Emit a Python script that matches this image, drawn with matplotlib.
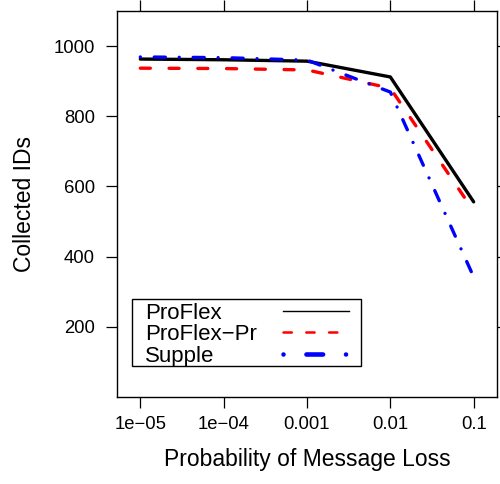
import numpy as np
import matplotlib.pyplot as plt
from matplotlib.patches import Rectangle

plt.rcParams['font.family'] = ['Liberation Sans', 'DejaVu Sans']
plt.rcParams['lines.scale_dashes'] = False

# data
loss = [1e-05, 1e-04, 1e-03, 1e-02, 1e-01]
tick_labels = ['1e\u221205', '1e\u221204', '0.001', '0.01', '0.1']
series_names = ['ProFlex', 'ProFlex\u2212Pr', 'Supple']
proflex = [963, 961, 957, 912, 556]
proflex_pr = [937, 936, 932, 880, 530]
supple = [969, 967, 960, 869, 342]

fig = plt.figure(figsize=(5.0, 4.84), dpi=100)
ax = fig.add_axes([0.234, 0.1798, 0.76, 0.7975])

lx = np.log10(loss)
ax.plot(lx, proflex, color='black', lw=2.4, solid_capstyle='round', solid_joinstyle='round')
ax.plot(lx, proflex_pr, color='red', lw=2.4, dashes=(7.2, 13.5), dash_capstyle='round')
ax.plot(lx, supple, color='blue', lw=2.4, dashes=(0.01, 10, 8, 10), dash_capstyle='round')

ax.set_xlim(-5.28, -0.72)
ax.set_ylim(0, 1100)
ax.set_xticks(lx)
ax.set_xticklabels(tick_labels)
ax.set_yticks([200, 400, 600, 800, 1000])
ax.tick_params(axis='both', direction='out', length=7.8, width=0.9, labelsize=13.3,
               top=True, right=True, labeltop=False, labelright=False)
ax.tick_params(axis='x', pad=6)
ax.tick_params(axis='y', pad=8)
for s in ax.spines.values():
    s.set_linewidth(1.0)

ax.set_xlabel('Probability of Message Loss', fontsize=16.5, labelpad=11)
ax.set_ylabel('Collected IDs', fontsize=16.5, labelpad=13)

# key drawn lattice-style (labels on the left, line samples on the right)
tr = ax.transAxes
ax.add_patch(Rectangle((0.0395, 0.0803), 0.6025, 0.1737, transform=tr,
                       facecolor='white', edgecolor='black', lw=1.0, zorder=5))
key_styles = [dict(color='black', lw=1.0),
              dict(color='red', lw=1.8, dashes=(6, 10.4), dash_capstyle='round'),
              dict(color='blue', lw=3.3, dashes=(0.01, 16.5, 12, 16.5), dash_capstyle='round')]
row_y = [0.2228, 0.1684, 0.1114]
for name, st, y in zip(series_names, key_styles, row_y):
    ax.text(0.0737, y - 0.0207, name, transform=tr, fontsize=16, va='baseline',
            ha='left', zorder=6)
    ax.plot([0.4368, 0.6105], [y, y], transform=tr, zorder=6, **st)

fig.savefig('out.png', dpi=100)
